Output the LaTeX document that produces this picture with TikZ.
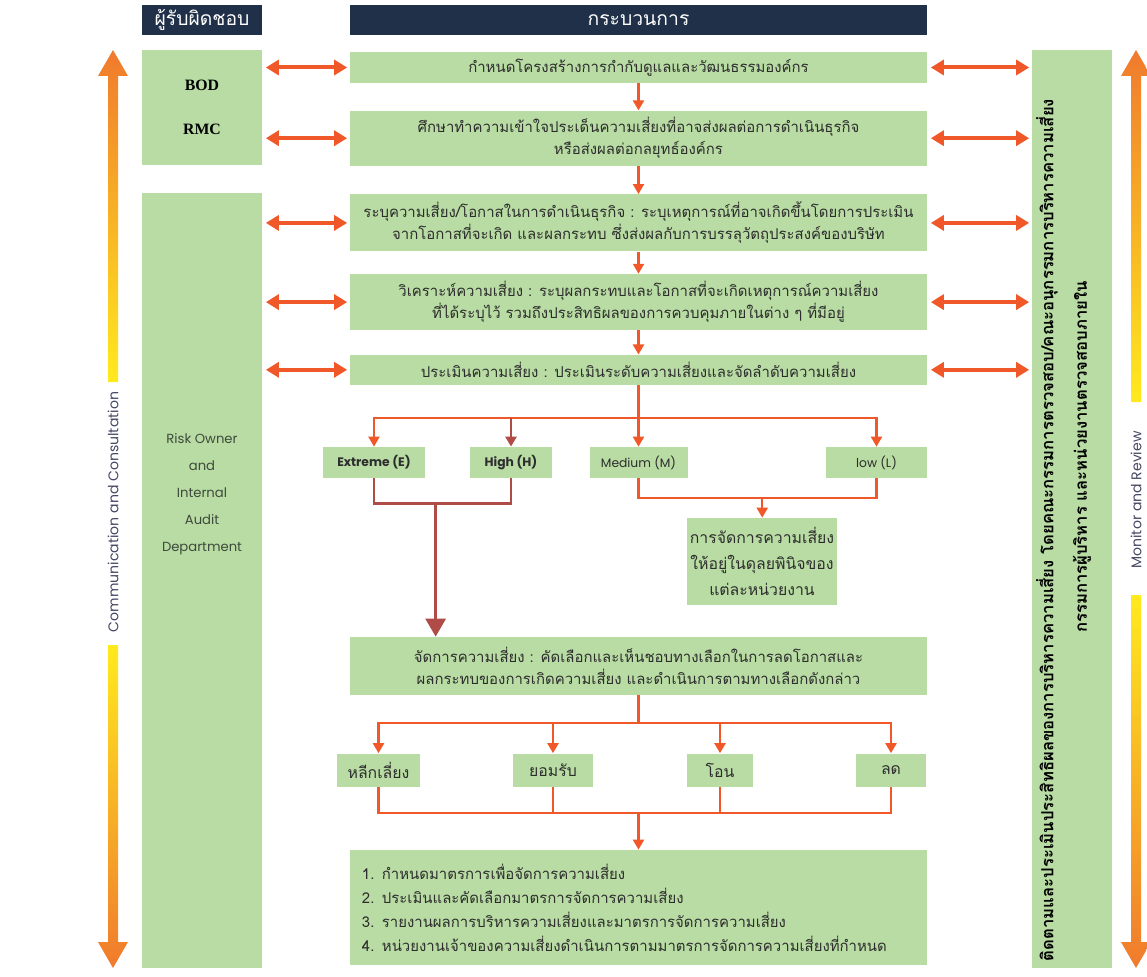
\documentclass[tikz,border=0pt]{standalone}
\usepackage{fontspec}
\setmainfont{Poppins}
\newfontfamily\thaifont[Script=Thai]{Loma}
\newfontfamily\boardfont{Liberation Serif}
\usetikzlibrary{positioning,arrows.meta,calc}

\definecolor{boxgreen}{RGB}{184,220,163}
\definecolor{headnavy}{RGB}{32,48,72}
\definecolor{flowred}{RGB}{240,88,42}
\definecolor{levelred}{RGB}{176,76,72}
\definecolor{darktext}{RGB}{45,45,45}
\definecolor{sidetext}{RGB}{62,74,60}
\definecolor{bartext}{RGB}{70,72,100}
\definecolor{barorange}{RGB}{240,122,45}
\definecolor{baryellow}{RGB}{255,234,30}

\tikzset{
  headbox/.style={fill=headnavy, text=white, minimum height=6mm, inner sep=0pt,
    font=\thaifont\fontsize{11}{13}\selectfont},
  procbox/.style={fill=boxgreen, text=darktext, minimum width=115.4mm, inner sep=0pt,
    align=center, font=\thaifont\fontsize{8.5}{12.5}\selectfont},
  sidebox/.style={fill=boxgreen, minimum width=24mm, inner sep=0pt},
  levbox/.style={fill=boxgreen, text=darktext, minimum height=6.2mm, inner sep=0pt,
    font=\fontsize{7}{8}\selectfont},
  optbox/.style={fill=boxgreen, text=darktext, minimum height=6.6mm, inner sep=0pt,
    font=\thaifont\fontsize{9}{11}\selectfont},
  montext/.style={rotate=90, text=black, inner sep=0pt,
    font=\thaifont\bfseries\fontsize{9.5}{11}\selectfont},
  bartag/.style={rotate=90, text=bartext, inner sep=0pt, font=\fontsize{8}{9}\selectfont},
  biarrow/.style={draw=flowred, line width=0.8mm, shorten <=0.7mm, shorten >=0.5mm,
    {Triangle[width=3mm,length=2.6mm]}-{Triangle[width=3mm,length=2.6mm]}},
  line/.style={draw=flowred, line width=0.45mm},
  flow/.style={line, -{Triangle[width=2.2mm,length=2mm]}},
  darkline/.style={draw=levelred, line width=0.5mm},
  darkflow/.style={darkline, -{Triangle[width=2.2mm,length=2mm]}},
}

\begin{document}
\begin{tikzpicture}[x=0.2mm,y=-0.2mm]
  \useasboundingbox (0,0) rectangle (1147,977);

  % Headers
  \node[headbox, minimum width=24mm] (hresp) at (202,20) {ผู้รับผิดชอบ};
  \node[headbox, minimum width=115.4mm] (hproc) at (638.5,20) {กระบวนการ};

  % Responsible parties
  \node[sidebox, minimum height=23mm, align=center,
        font=\boardfont\bfseries\fontsize{9}{10}\selectfont] (bod) at (202,107.5) {BOD\\[5.2mm]RMC};
  \node[sidebox, minimum height=155mm] (owner) at (202,580.5) {};
  \node[text=sidetext, align=center, font=\fontsize{7.5}{15.4}\selectfont] (ownert) at (202,494)
        {Risk Owner\\and\\Internal\\Audit\\Department};
  \node[sidebox, minimum width=16mm, minimum height=183.6mm] (mon) at (1072,509) {};
  \node[montext] (mon1) at (1047,530)
        {ติดตามและประเมินประสิทธิผลของการบริหารความเสี่ยง โดยคณะกรรมการตรวจสอบ/คณะอนุกรรมการบริหารความเสี่ยง};
  \node[montext] (mon2) at (1082,457) {กรรมการผู้บริหาร และหน่วยงานตรวจสอบภายใน};

  % Process steps
  \node[procbox, minimum height=6.2mm] (p1) at (638.5,67.5)
        {กำหนดโครงสร้างการกำกับดูแลและวัฒนธรรมองค์กร};
  \node[procbox, minimum height=11mm, below=5.4mm of p1] (p2)
        {ศึกษาทำความเข้าใจประเด็นความเสี่ยงที่อาจส่งผลต่อการดำเนินธุรกิจ\\หรือส่งผลต่อกลยุทธ์องค์กร};
  \node[procbox, minimum height=11.4mm, below=5.6mm of p2] (p3)
        {ระบุความเสี่ยง/โอกาสในการดำเนินธุรกิจ : ระบุเหตุการณ์ที่อาจเกิดขึ้นโดยการประเมิน\\จากโอกาสที่จะเกิด และผลกระทบ ซึ่งส่งผลกับการบรรลุวัตถุประสงค์ของบริษัท};
  \node[procbox, minimum height=11.2mm, below=4.4mm of p3] (p4)
        {วิเคราะห์ความเสี่ยง : ระบุผลกระทบและโอกาสที่จะเกิดเหตุการณ์ความเสี่ยง\\ที่ได้ระบุไว้ รวมถึงประสิทธิผลของการควบคุมภายในต่าง ๆ ที่มีอยู่};
  \node[procbox, minimum height=6mm, below=4.8mm of p4] (p5)
        {ประเมินความเสี่ยง : ประเมินระดับความเสี่ยงและจัดลำดับความเสี่ยง};

  % Risk levels
  \node[levbox, minimum width=20.4mm, font=\bfseries\fontsize{7}{8}\selectfont] (ext) at (374,462.5) {Extreme (E)};
  \node[levbox, minimum width=16.4mm, font=\bfseries\fontsize{7}{8}\selectfont] (high) at (511,462.5) {High (H)};
  \node[levbox, minimum width=19.6mm] (med) at (638.5,462.5) {Medium (M)};
  \node[levbox, minimum width=20.2mm] (low) at (876.5,462.5) {low (L)};
  \node[procbox, minimum width=30mm, minimum height=17.4mm,
        font=\thaifont\fontsize{9}{14.8}\selectfont] (disc) at (762,561.5)
        {การจัดการความเสี่ยง\\ให้อยู่ในดุลยพินิจของ\\แต่ละหน่วยงาน};

  % Treatment
  \node[procbox, minimum height=11.6mm] (treat) at (638.5,666)
        {จัดการความเสี่ยง : คัดเลือกและเห็นชอบทางเลือกในการลดโอกาสและ\\ผลกระทบของการเกิดความเสี่ยง และดำเนินการตามทางเลือกดังกล่าว};
  \node[optbox, minimum width=16.6mm] (avoid) at (378.5,770) {หลีกเลี่ยง};
  \node[optbox, minimum width=16mm] (accept) at (553,770) {ยอมรับ};
  \node[optbox, minimum width=13.2mm] (transfer) at (720,770) {โอน};
  \node[optbox, minimum width=14mm] (reduce) at (891,770) {ลด};
  \node[procbox, minimum height=23mm, text width=110.6mm, inner xsep=2.4mm, align=left,
        font=\thaifont\fontsize{8.5}{13.7}\selectfont] (final) at (638.5,907.5)
        {1. กำหนดมาตรการเพื่อจัดการความเสี่ยง\\
         2. ประเมินและคัดเลือกมาตรการจัดการความเสี่ยง\\
         3. รายงานผลการบริหารความเสี่ยงและมาตรการจัดการความเสี่ยง\\
         4. หน่วยงานเจ้าของความเสี่ยงดำเนินการตามมาตรการจัดการความเสี่ยงที่กำหนด};

  % Side bars
  \shade[top color=barorange, bottom color=baryellow]
    (108,382) -- (108,76) -- (98,76) -- (113,50) -- (128,76) -- (118,76) -- (118,382) -- cycle;
  \shade[top color=baryellow, bottom color=barorange]
    (108,645) -- (108,942) -- (98,942) -- (113,968) -- (128,942) -- (118,942) -- (118,645) -- cycle;
  \node[bartag] (comm) at (113,512) {Communication and Consultation};
  \shade[top color=barorange, bottom color=baryellow]
    (1131,402) -- (1131,76) -- (1121,76) -- (1136,50) -- (1151,76) -- (1141,76) -- (1141,402) -- cycle;
  \shade[top color=baryellow, bottom color=barorange]
    (1131,595) -- (1131,942) -- (1121,942) -- (1136,968) -- (1151,942) -- (1141,942) -- (1141,595) -- cycle;
  \node[bartag] (review) at (1136,500) {Monitor and Review};

  % Connect the nodes
  \foreach \p/\s in {p1/bod,p2/bod,p3/owner,p4/owner,p5/owner} {
    \draw[biarrow] (\p.west -| \s.east) -- (\p.west);
    \draw[biarrow] (\p.east) -- (\p.east -| mon.west);
  }
  \draw[flow] (p1) -- (p2);
  \draw[flow] (p2) -- (p3);
  \draw[flow] (p3) -- (p4);
  \draw[flow] (p4) -- (p5);

  \coordinate (split) at ($(p5.south)+(0,33)$);
  \draw[line] (p5.south) -- (split);
  \draw[flow] (split) -| (ext.north);
  \draw[flow] (split) -| (low.north);
  \draw[flow] (split) -- (med.north);
  \draw[darkflow] (split -| high.north) -- (high.north);

  \coordinate (ehjoin) at ($(ext.south)!0.45!(high.south)+(0,25)$);
  \draw[darkline] (ext.south) |- (ehjoin) -| (high.south);
  \draw[darkline, line width=0.6mm, -{Triangle[width=4mm,length=3.6mm]}] (ehjoin) -- (ehjoin |- treat.north);

  \coordinate (mljoin) at ($(med.south)!0.52!(low.south)+(0,20)$);
  \draw[line] (med.south) |- (mljoin) -| (low.south);
  \draw[flow] (mljoin) -- (mljoin |- disc.north);

  \coordinate (split2) at ($(treat.south)+(0,28)$);
  \draw[line] (treat.south) -- (split2);
  \draw[flow] (split2) -| (avoid.north);
  \draw[flow] (split2) -| (reduce.north);
  \draw[flow] (split2 -| accept.north) -- (accept.north);
  \draw[flow] (split2 -| transfer.north) -- (transfer.north);

  \coordinate (join2) at ($(split2)+(0,90)$);
  \draw[line] (avoid.south) |- (join2);
  \draw[line] (reduce.south) |- (join2);
  \draw[line] (accept.south) -- (accept.south |- join2);
  \draw[line] (transfer.south) -- (transfer.south |- join2);
  \draw[flow] (join2) -- (final.north);
\end{tikzpicture}
\end{document}
